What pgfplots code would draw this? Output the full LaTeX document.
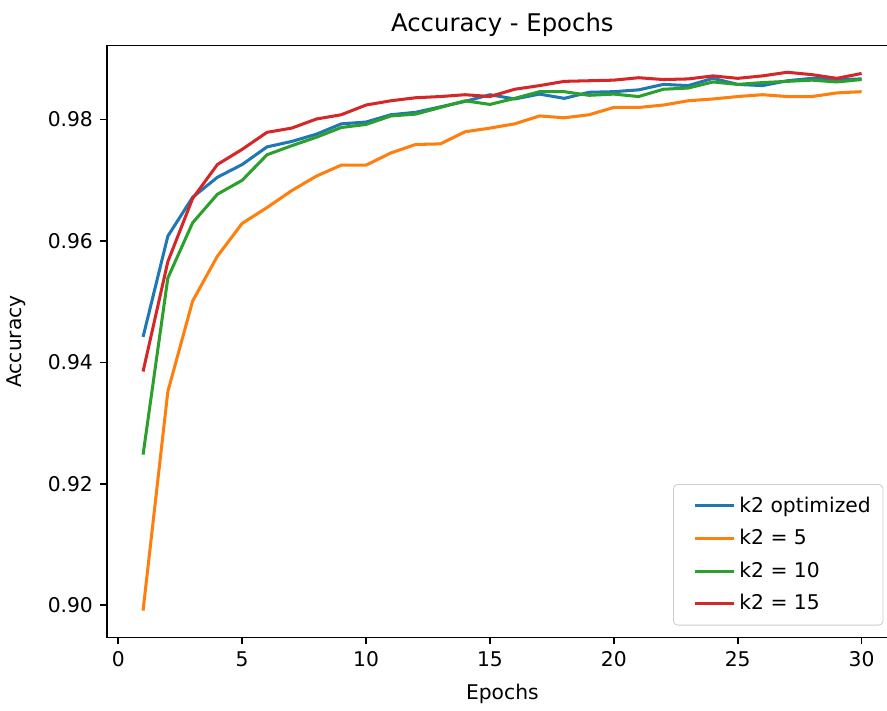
\documentclass[border=0pt]{standalone}
\usepackage{pgfplots}
\pgfplotsset{compat=1.18}
\usepackage{fontspec}
\setmainfont{DejaVu Sans}
\definecolor{tabblue}{HTML}{1F77B4}
\definecolor{taborange}{HTML}{FF7F0E}
\definecolor{tabgreen}{HTML}{2CA02C}
\definecolor{tabred}{HTML}{D62728}
\begin{document}
\begin{tikzpicture}
\begin{axis}[
    scale only axis,
    width=390pt, height=292pt,
    xmin=-0.45, xmax=31.45,
    ymin=0.8947, ymax=0.9922,
    xtick={0,5,...,30},
    ytick={0.90,0.92,0.94,0.96,0.98},
    yticklabel style={/pgf/number format/.cd,fixed,fixed zerofill,precision=2},
    /pgf/number format/assume math mode=true,
    scaled y ticks=false,
    tick align=outside,
    xtick pos=bottom, ytick pos=left,
    major tick length=3.5pt,
    axis line style={line width=0.8pt},
    every tick/.style={black, line width=0.8pt},
    tick label style={font=\fontsize{10}{12}\selectfont},
    label style={font=\fontsize{10}{12}\selectfont},
    ylabel shift=4pt,
    xlabel shift=1.5pt,
    title style={font=\fontsize{12}{14}\selectfont, yshift=-5pt},
    title={Accuracy - Epochs},
    xlabel={Epochs}, ylabel={Accuracy},
    legend style={font=\fontsize{10}{12}\selectfont, draw=black!20, rounded corners=2pt,
        row sep=3pt, inner xsep=4pt, inner ysep=4pt, at={(0.982,0.02)}, anchor=south east},
    legend cell align=left,
    legend image code/.code={\path (0cm,0cm); \draw[#1] (0.2cm,0cm) -- (0.88cm,0cm);},
    every axis plot/.append style={line width=1.5pt},
]
\addplot[tabblue] coordinates {
(1,0.9442) (2,0.9608) (3,0.9672) (4,0.9705) (5,0.9726) (6,0.9755) (7,0.9764) (8,0.9776)
(9,0.9793) (10,0.9796) (11,0.9808) (12,0.9812) (13,0.9821) (14,0.9830) (15,0.9841)
(16,0.9834) (17,0.9842) (18,0.9835) (19,0.9845) (20,0.9846) (21,0.9849) (22,0.9858)
(23,0.9856) (24,0.9868) (25,0.9858) (26,0.9856) (27,0.9864) (28,0.9868) (29,0.9866) (30,0.9867)};
\addlegendentry{k2 optimized}
\addplot[taborange] coordinates {
(1,0.8991) (2,0.9352) (3,0.9501) (4,0.9575) (5,0.9629) (6,0.9655) (7,0.9683) (8,0.9707)
(9,0.9725) (10,0.9725) (11,0.9745) (12,0.9759) (13,0.9760) (14,0.9780) (15,0.9786)
(16,0.9793) (17,0.9806) (18,0.9803) (19,0.9808) (20,0.9820) (21,0.9820) (22,0.9824)
(23,0.9831) (24,0.9834) (25,0.9838) (26,0.9841) (27,0.9838) (28,0.9838) (29,0.9844) (30,0.9846)};
\addlegendentry{k2 = 5}
\addplot[tabgreen] coordinates {
(1,0.9248) (2,0.9539) (3,0.9630) (4,0.9677) (5,0.9700) (6,0.9742) (7,0.9757) (8,0.9771)
(9,0.9787) (10,0.9792) (11,0.9806) (12,0.9809) (13,0.9820) (14,0.9831) (15,0.9825)
(16,0.9835) (17,0.9846) (18,0.9846) (19,0.9840) (20,0.9842) (21,0.9838) (22,0.9850)
(23,0.9852) (24,0.9862) (25,0.9858) (26,0.9861) (27,0.9863) (28,0.9865) (29,0.9862) (30,0.9866)};
\addlegendentry{k2 = 10}
\addplot[tabred] coordinates {
(1,0.9385) (2,0.9566) (3,0.9670) (4,0.9726) (5,0.9751) (6,0.9779) (7,0.9786) (8,0.9801)
(9,0.9808) (10,0.9824) (11,0.9831) (12,0.9836) (13,0.9838) (14,0.9841) (15,0.9838)
(16,0.9850) (17,0.9856) (18,0.9863) (19,0.9864) (20,0.9865) (21,0.9869) (22,0.9866)
(23,0.9867) (24,0.9872) (25,0.9868) (26,0.9872) (27,0.9878) (28,0.9874) (29,0.9868) (30,0.9876)};
\addlegendentry{k2 = 15}
\end{axis}
\path (current bounding box.south west) coordinate (bbsw);
\path (current bounding box.north east) coordinate (bbne);
\pgfresetboundingbox
\useasboundingbox (bbsw) rectangle ([xshift=-5.6pt,yshift=3pt]bbne);
\end{tikzpicture}
\end{document}
